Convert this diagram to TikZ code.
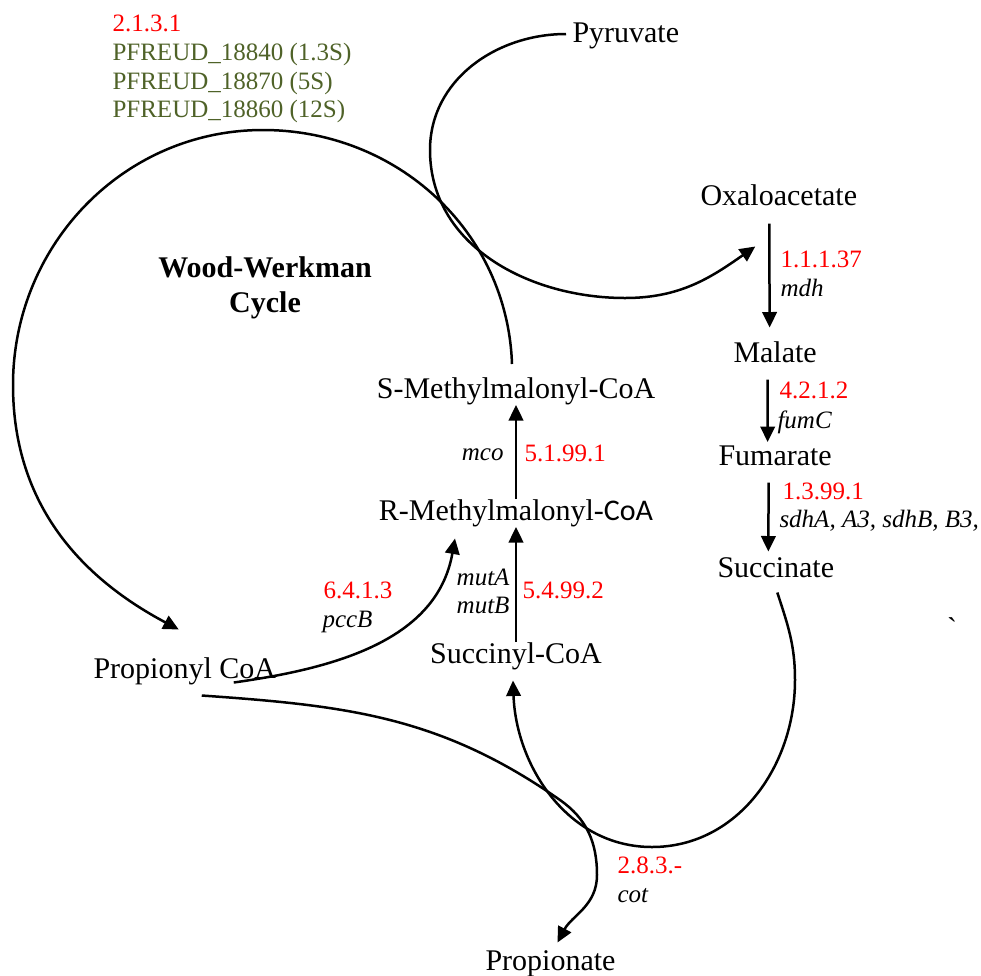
\documentclass[tikz,border=0pt]{standalone}
\usepackage{fontspec}
\setmainfont{Liberation Serif}
\newfontfamily\calibrifont{Carlito}
\usepackage{tikz}
\usepackage{xcolor}
\usetikzlibrary{
    arrows.meta
}
\definecolor{ecred}{RGB}{255,0,0}
\definecolor{locusgreen}{RGB}{79,98,40}

\begin{document}
\begin{tikzpicture}[x=0.4pt, y=0.4pt,
        met/.style={inner sep=0pt, text height=8.2pt, text depth=2.6pt, font=\fontsize{12}{14}\selectfont},
        ec/.style={inner sep=0pt, anchor=base west, text=ecred, font=\fontsize{10}{12}\selectfont},
        gene/.style={inner sep=0pt, anchor=base west, font=\itshape\fontsize{10}{12}\selectfont},
        locus/.style={inner sep=0pt, anchor=base west, text=locusgreen, font=\fontsize{10}{12}\selectfont},
        cycletitle/.style={inner sep=0pt, align=center, font=\bfseries\fontsize{12}{14}\selectfont},
        rxn/.style={line width=1pt, -{Triangle[length=6.2pt, width=5.8pt]}}]
    \useasboundingbox (0, 0) rectangle (981, -975);

    \node[ec] (ec2131) at (112, -31) {2.1.3.1};
    \node[locus] (pf18840) at (112, -60) {PFREUD\_18840 (1.3S)};
    \node[locus] (pf18870) at (112, -89) {PFREUD\_18870 (5S)};
    \node[locus] (pf18860) at (112, -117) {PFREUD\_18860 (12S)};
    \node[cycletitle] (wwc) at (265, -288) {Wood-Werkman\\Cycle};

    \node[met, anchor=base west] (pyr) at (572, -42) {Pyruvate};
    \node[met, anchor=base west] (oxa) at (700, -205) {Oxaloacetate};
    \node[met, anchor=base west] (mal) at (733, -362) {Malate};
    \node[met, anchor=base west] (fum) at (718, -465) {Fumarate};
    \node[met, anchor=base west] (succ) at (717, -577) {Succinate};
    \node[inner sep=0pt, font=\fontsize{12}{14}\selectfont] (tick) at (952, -628) {\textasciigrave};

    \node[met, anchor=base] (smm) at (516, -398) {S-Methylmalonyl-CoA};
    \node[met, anchor=base] (rmm) at (516, -520) {R-Methylmalonyl-{\calibrifont CoA}};
    \node[met, anchor=base] (sc) at (516, -663) {Succinyl-CoA};
    \node[met, anchor=base west] (pc) at (93, -678) {Propionyl CoA};
    \node[met, anchor=base west] (pn) at (485, -970) {Propionate};

    \node[ec] (ec11137) at (780, -267) {1.1.1.37};
    \node[gene] (mdh) at (780, -296) {mdh};
    \node[ec] (ec4212) at (779, -398) {4.2.1.2};
    \node[gene] (fumC) at (777, -428) {fumC};
    \node[ec] (ec13991) at (782, -499) {1.3.99.1};
    \node[gene] (sdh) at (779, -527) {sdhA, A3, sdhB, B3,};

    \node[gene, anchor=base east] (mco) at (504, -460) {mco};
    \node[ec] (ec51991) at (524, -461) {5.1.99.1};
    \node[gene, anchor=base east] (mutA) at (510, -585) {mutA};
    \node[gene, anchor=base east] (mutB) at (510, -613) {mutB};
    \node[ec] (ec54992) at (522, -598) {5.4.99.2};
    \node[ec] (ec6413) at (323, -598) {6.4.1.3};
    \node[gene] (pccB) at (322, -627) {pccB};
    \node[ec] (ec283) at (617, -873) {2.8.3.-};
    \node[gene] (cot) at (617, -902) {cot};

    \draw[rxn] ([shift={(-9.5, -11.5)}]oxa.south) -- ([shift={(-5.5, 13.5)}]mal.north);
    \draw[rxn] ([shift={(-7.5, -10.5)}]mal.south) -- ([shift={(-7.5, 2)}]fum.north);
    \draw[rxn] ([shift={(-6.5, -10.5)}]fum.south) -- ([shift={(-7.5, 4.5)}]succ.north);
    \draw[rxn] (rmm.north) -- (smm.south);
    \draw[rxn] (sc.north) -- (rmm.south);

    \draw[rxn] ([shift={(-6, 1)}]pyr.west) to[out=180, in=90] (430, -150)
        to[out=-90, in=180] (625, -298) to[out=0, in=215] ([shift={(-23.5, -34.5)}]oxa.south);
    \draw[rxn] ([shift={(-4, 13)}]smm.north) to[out=92, in=0] (263, -130)
        to[out=180, in=90] (13, -385) to[out=-90, in=152] ([shift={(-6, 27.5)}]pc.north);
    \draw[rxn] ([shift={(49, 2.5)}]pc.south) to[out=8, in=-100] ([shift={(-61, -11.5)}]rmm.south);
    \draw[rxn] ([shift={(1.5, -8.5)}]succ.south) to[out=-72, in=90] (795, -680)
        to[out=-90, in=0] (652, -847) to[out=180, in=-88] ([shift={(-3, -10.5)}]sc.south);
    \draw[rxn] ([shift={(17, -10.5)}]pc.south) to[out=-4, in=145] (560, -800)
        to[out=-35, in=90] (597, -875) to[out=-90, in=62] ([shift={(7, 6.5)}]pn.north);
\end{tikzpicture}
\end{document}
